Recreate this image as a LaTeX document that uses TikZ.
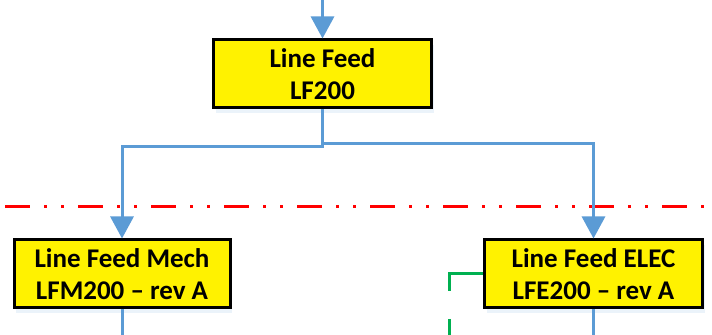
\documentclass[tikz,border=0pt]{standalone}
\usepackage{fontspec}
\setmainfont{Carlito}
\usetikzlibrary{arrows.meta, positioning, shadows}
\definecolor{flowblue}{HTML}{5B9BD5}
\definecolor{cutred}{HTML}{FF0000}
\definecolor{linkgreen}{HTML}{00B050}
\tikzset{
    partbox/.style={rectangle, draw=black, fill=yellow, line width=1.5pt, minimum height=34pt, minimum width=109pt, align=center, font=\fontsize{13.5}{15.8}\selectfont\bfseries, inner sep=0pt,
        drop shadow={opacity=0.12, fill=flowblue, shadow xshift=1pt, shadow yshift=-2.5pt}},
    flow/.style={draw=flowblue, line width=1.5pt},
    flowarrow/.style={flow, -{Triangle[width=11.5pt, length=11pt]}},
}

\begin{document}
\begin{tikzpicture}[x=0.5pt, y=-0.5pt]
        \useasboundingbox (0,0) rectangle (712,335);

        % Nodes
        \node[partbox] (lf) at (322.5,74) {Line Feed\\LF200};
        \node[partbox, minimum width=108pt] (lfm) at (122,274) {Line Feed Mech\\LFM200 -- rev A};
        \node[partbox] (lfe) at (593.5,274) {Line Feed ELEC\\LFE200 -- rev A};

        \coordinate (feed) at (322.5,0);
        \coordinate (lfmend) at (122,335);
        \coordinate (lfeend) at (593.5,335);
        \coordinate (linkend) at (449,335);

        % Cut line
        \draw[cutred, line width=1.5pt, dash pattern=on 12.5pt off 7pt on 1.5pt off 7pt on 1.5pt off 7pt, dash phase=-2.5pt]
            (0,207) -- (712,207);

        % Connections
        \draw[flowarrow] (feed) -- (lf);
        \draw[flowarrow] (lf.south) -- ++(0,37) -| (lfm.north);
        \draw[flowarrow] (lf.south) -- ++(0,34) -| (lfe.north);
        \draw[flow] (lfm.south) -- (lfmend);
        \draw[flow] (lfe.south) -- (lfeend);
        \draw[linkgreen, line width=1.5pt, dash pattern=on 25.5pt off 14pt] (lfe.west) -| (linkend);
    \end{tikzpicture}
\end{document}
